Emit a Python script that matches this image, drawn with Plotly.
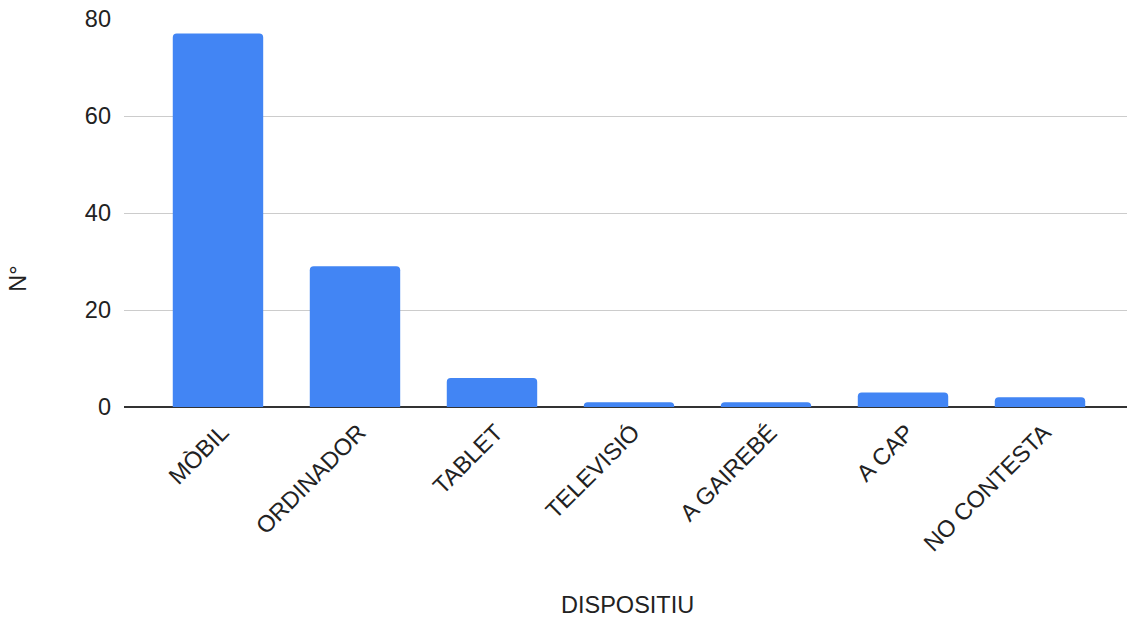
import plotly.graph_objects as go

# Devices used and number of answers for each
dispositius = ["MÒBIL", "ORDINADOR", "TABLET", "TELEVISIÓ", "A GAIREBÉ", "A CAP", "NO CONTESTA"]
respostes = [77, 29, 6, 1, 1, 3, 2]

y_ticks = [0, 20, 40, 60, 80]

FONT = "Liberation Sans, Arial, sans-serif"
SIZE = 23.5
INK = "#222222"

fig = go.Figure(
    go.Bar(
        x=dispositius,
        y=respostes,
        marker=dict(color="#4285F4", cornerradius=4, line=dict(width=0)),
        width=0.66,
        hoverinfo="x+y",
    )
)

fig.update_layout(
    width=1127,
    height=621,
    margin=dict(l=124, r=0, t=19, b=214),
    paper_bgcolor="white",
    plot_bgcolor="white",
    showlegend=False,
    font=dict(family=FONT, size=SIZE, color=INK),
    xaxis=dict(
        type="category",
        range=[-0.686, 6.635],
        tickangle=-45,
        showgrid=False,
        showline=False,
        ticks="",
        ticklabelstandoff=6,
        ticklabelshift=4,
        tickfont=dict(size=SIZE, color=INK),
    ),
    yaxis=dict(
        range=[0, 80],
        tickvals=y_ticks,
        showgrid=True,
        gridcolor="#cccccc",
        gridwidth=1,
        zeroline=True,
        zerolinecolor="#333333",
        zerolinewidth=1.5,
        ticks="",
        ticklabelstandoff=12,
        tickfont=dict(size=SIZE, color=INK),
    ),
    annotations=[
        dict(
            text="DISPOSITIU",
            xref="paper", yref="paper",
            x=0.502, y=-0.51,
            xanchor="center", yanchor="middle",
            showarrow=False,
            font=dict(size=SIZE, color=INK, family=FONT),
        ),
        dict(
            text="N°",
            xref="paper", yref="paper",
            x=-0.106, y=0.33,
            xanchor="center", yanchor="middle",
            textangle=-90,
            showarrow=False,
            font=dict(size=SIZE, color=INK, family=FONT),
        ),
    ],
)

fig.write_html("out.html")
